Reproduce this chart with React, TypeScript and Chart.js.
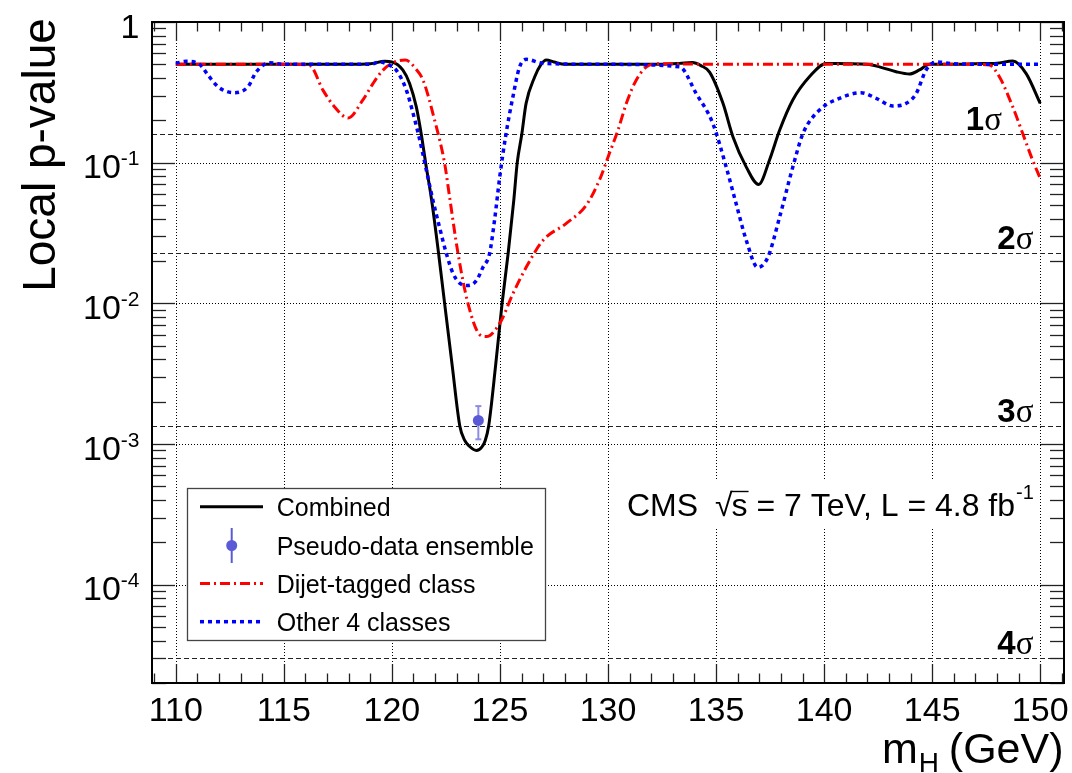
import React, { useEffect, useRef } from "react";
import { Chart, registerables } from "chart.js";
Chart.register(...registerables);

// ---------------- data ----------------
const massCombined = [110, 112, 114, 116, 118, 119, 119.67, 120.0, 120.51, 120.82, 121.13, 121.36, 121.56, 121.84, 122.16, 122.44, 122.79, 123.14, 123.37, 123.6, 123.91, 124.16, 124.32, 124.48, 124.8, 125.1, 125.38, 125.64, 125.8, 126.01, 126.21, 126.61, 126.88, 127.15, 127.5, 128.0, 130, 132, 133.3, 133.9, 134.3, 134.7, 135.32, 135.78, 136.4, 136.97, 137.47, 137.94, 138.55, 139.32, 140.1, 141, 142, 142.56, 143.33, 143.95, 144.41, 144.88, 146, 147, 148, 148.73, 149.35, 150];
const pCombined = [0.5, 0.5, 0.5, 0.5, 0.5, 0.505, 0.525, 0.52, 0.455, 0.366, 0.249, 0.159, 0.1, 0.054, 0.0227, 0.01, 0.00362, 0.00135, 0.00106, 0.00096, 0.0009, 0.00095, 0.00106, 0.00135, 0.00362, 0.01, 0.0227, 0.054, 0.1, 0.159, 0.264, 0.408, 0.494, 0.537, 0.52, 0.5, 0.5, 0.5, 0.508, 0.515, 0.49, 0.44, 0.264, 0.153, 0.093, 0.07, 0.104, 0.17, 0.279, 0.408, 0.508, 0.505, 0.5, 0.48, 0.443, 0.427, 0.456, 0.5, 0.5, 0.505, 0.51, 0.528, 0.43, 0.264];

const massDijet = [110, 112, 114, 115.5, 116.2, 116.81, 117.35, 117.97, 118.66, 119.13, 119.59, 120.05, 120.62, 121.13, 121.44, 121.98, 122.44, 122.67, 123.06, 123.52, 124.06, 124.37, 124.99, 125.6, 126.22, 126.99, 128.07, 129.0, 129.6, 130.07, 130.46, 130.85, 131.31, 131.92, 132.5, 135, 140, 145, 147.0, 147.65, 148.11, 148.73, 149.19, 149.65, 150];
const pDijet = [0.5, 0.5, 0.5, 0.5, 0.49, 0.328, 0.249, 0.208, 0.279, 0.366, 0.455, 0.513, 0.536, 0.46, 0.387, 0.2, 0.099, 0.057, 0.0226, 0.01, 0.006, 0.0058, 0.0072, 0.0117, 0.0181, 0.028, 0.037, 0.05, 0.075, 0.117, 0.17, 0.264, 0.387, 0.494, 0.505, 0.5, 0.5, 0.5, 0.5, 0.494, 0.408, 0.249, 0.161, 0.104, 0.0773];

const massOther = [110, 110.5, 111.1, 111.49, 111.96, 112.7, 113.34, 113.73, 114.35, 115, 117, 119, 119.44, 119.8, 120.2, 120.67, 120.98, 121.29, 121.52, 121.9, 122.2, 122.52, 122.83, 123.14, 123.52, 123.91, 124.21, 124.52, 124.75, 124.99, 125.26, 125.6, 125.91, 126.22, 127.0, 130, 133.31, 134.08, 134.85, 135.47, 135.93, 136.4, 136.93, 137.4, 137.94, 138.55, 139.02, 139.79, 140.71, 141.71, 142.41, 143.18, 143.8, 144.26, 144.72, 145.19, 146, 148, 150];
const pOther = [0.51, 0.525, 0.5, 0.42, 0.346, 0.314, 0.346, 0.443, 0.513, 0.5, 0.5, 0.5, 0.52, 0.5, 0.455, 0.328, 0.224, 0.145, 0.1, 0.054, 0.035, 0.0226, 0.0163, 0.0139, 0.0134, 0.0145, 0.018, 0.0226, 0.039, 0.079, 0.153, 0.294, 0.48, 0.543, 0.508, 0.5, 0.48, 0.31, 0.19, 0.093, 0.051, 0.028, 0.018, 0.0213, 0.041, 0.093, 0.161, 0.237, 0.287, 0.314, 0.287, 0.253, 0.264, 0.31, 0.456, 0.52, 0.505, 0.5, 0.5];

const pseudoMass = [124.0];
const pseudoP = [1.47e-3];
const pseudoLow = [1.08e-3];
const pseudoHigh = [1.86e-3];

const xTickValues = [110, 115, 120, 125, 130, 135, 140, 145, 150];
const yDecadeValues = [1, 0.1, 0.01, 0.001, 0.0001];
const yDecadeExponents = ["", "-1", "-2", "-3", "-4"];
const sigmaLevels = [0.1587, 0.02275, 0.00135, 3.0e-5];
const sigmaNames = ["1", "2", "3", "4"];
const legendLabels = ["Combined", "Pseudo-data ensemble", "Dijet-tagged class", "Other 4 classes"];

const X_MIN = 108.9;
const X_MAX = 151.1;
const Y_MIN = 2e-5;
const Y_MAX = 1;

const SANS = '"Liberation Sans", Arial, Helvetica, sans-serif';
const SERIF = '"Liberation Serif", "Times New Roman", serif';
const PSEUDO_COLOR = "#5a5ad6";
const RED_DASH = [10, 4, 2, 4];
const BLUE_DASH = [4, 4];

function toPoints(xs: number[], ys: number[]) {
  return xs.map((x, i) => ({ x, y: ys[i] }));
}

function line(ctx: CanvasRenderingContext2D, x1: number, y1: number, x2: number, y2: number) {
  ctx.beginPath();
  ctx.moveTo(x1, y1);
  ctx.lineTo(x2, y2);
  ctx.stroke();
}

const rootPlugin = {
  id: "rootStyle",
  beforeDatasetsDraw(chart: any) {
    const { ctx, chartArea: a } = chart;
    const xs = chart.scales.x;
    const ys = chart.scales.y;
    ctx.save();
    ctx.strokeStyle = "#000";
    ctx.lineWidth = 1;
    ctx.setLineDash([1, 2]);
    for (const t of xTickValues) {
      const px = Math.round(xs.getPixelForValue(t)) + 0.5;
      line(ctx, px, a.top, px, a.bottom);
    }
    for (const d of yDecadeValues) {
      if (d >= Y_MAX) continue;
      const py = Math.round(ys.getPixelForValue(d)) + 0.5;
      line(ctx, a.left, py, a.right, py);
    }
    ctx.setLineDash([5, 3]);
    ctx.strokeStyle = "#222";
    for (const s of sigmaLevels) {
      const py = Math.round(ys.getPixelForValue(s)) + 0.5;
      line(ctx, a.left, py, a.right, py);
    }
    ctx.setLineDash([]);
    ctx.strokeStyle = "#8c8ce6";
    ctx.lineWidth = 2;
    for (let i = 0; i < pseudoMass.length; i++) {
      const px = xs.getPixelForValue(pseudoMass[i]);
      const yt = ys.getPixelForValue(pseudoHigh[i]);
      const yb = ys.getPixelForValue(pseudoLow[i]);
      line(ctx, px, yt, px, yb);
      line(ctx, px - 3, yt, px + 3, yt);
      line(ctx, px - 3, yb, px + 3, yb);
    }
    ctx.restore();
  },
  afterDraw(chart: any) {
    const { ctx, chartArea: a } = chart;
    const xs = chart.scales.x;
    const ys = chart.scales.y;
    ctx.save();
    ctx.setLineDash([]);

    // ticks
    ctx.strokeStyle = "#222";
    ctx.lineWidth = 1.3;
    for (let v = Math.ceil(X_MIN); v <= Math.floor(X_MAX); v++) {
      const px = Math.round(xs.getPixelForValue(v)) + 0.5;
      const len = v % 5 === 0 ? 19 : 9.5;
      line(ctx, px, a.bottom, px, a.bottom - len);
      line(ctx, px, a.top, px, a.top + len);
    }
    for (let e = -5; e <= 0; e++) {
      for (let k = 1; k <= 9; k++) {
        const v = k * Math.pow(10, e);
        if (v < Y_MIN * 0.999 || v > Y_MAX * 1.001) continue;
        const py = Math.round(ys.getPixelForValue(v)) + 0.5;
        const len = k === 1 ? 23 : 14;
        line(ctx, a.left, py, a.left + len, py);
        line(ctx, a.right, py, a.right - len, py);
      }
    }

    // frame
    ctx.strokeStyle = "#000";
    ctx.lineWidth = 2;
    ctx.strokeRect(a.left, a.top, a.right - a.left, a.bottom - a.top);

    ctx.fillStyle = "#000";
    ctx.font = `34px ${SANS}`;
    ctx.textAlign = "center";
    ctx.textBaseline = "alphabetic";
    for (const t of xTickValues) {
      ctx.fillText(String(t), xs.getPixelForValue(t), a.bottom + 37.5);
    }
    const rightEdge = 139.5;
    for (let i = 0; i < yDecadeValues.length; i++) {
      const py = ys.getPixelForValue(yDecadeValues[i]);
      const ex = yDecadeExponents[i];
      ctx.textAlign = "left";
      if (ex === "") {
        ctx.font = `34px ${SANS}`;
        const w = ctx.measureText("1").width;
        ctx.fillText("1", rightEdge - w, py + 15.5);
      } else {
        ctx.font = `21px ${SANS}`;
        const ws = ctx.measureText(ex).width;
        ctx.fillText(ex, rightEdge - ws, py + 2.5);
        ctx.font = `34px ${SANS}`;
        const wb = ctx.measureText("10").width;
        ctx.fillText("10", rightEdge - ws - wb, py + 15.6);
      }
    }

    // y title
    ctx.save();
    ctx.font = `46px ${SANS}`;
    ctx.textAlign = "center";
    ctx.translate(55, 155);
    ctx.rotate(-Math.PI / 2);
    ctx.fillText("Local p-value", 0, 0);
    ctx.restore();

    // x title
    {
      const f = 43;
      const base = 763;
      ctx.textAlign = "left";
      ctx.font = `${f}px ${SANS}`;
      const wTail = ctx.measureText("(GeV)").width;
      const wm = ctx.measureText("m").width;
      const tailX = 1063.5 - wTail;
      const hX = tailX - 31;
      const mX = hX - wm;
      ctx.fillText("m", mX, base);
      ctx.fillText("(GeV)", tailX, base);
      ctx.font = `28px ${SANS}`;
      ctx.fillText("H", hX + 1, base + 9);
    }

    // sigma labels
    const sigmaRight = [1002, 1033.5, 1033.5, 1033.5];
    for (let i = 0; i < sigmaLevels.length; i++) {
      const py = ys.getPixelForValue(sigmaLevels[i]);
      ctx.font = `bold 33px ${SANS}`;
      const wn = ctx.measureText(sigmaNames[i]).width;
      ctx.font = `33px ${SERIF}`;
      const wsg = ctx.measureText("σ").width;
      const x0 = sigmaRight[i] - wn - wsg;
      ctx.textAlign = "left";
      ctx.font = `bold 33px ${SANS}`;
      ctx.fillText(sigmaNames[i], x0, py - 4);
      ctx.font = `33px ${SERIF}`;
      ctx.fillText("σ", x0 + wn, py - 4);
    }

    // CMS text with white background
    ctx.fillStyle = "#fff";
    ctx.fillRect(612, 481, 424, 47);
    ctx.fillStyle = "#000";
    {
      const base = 516;
      ctx.font = `32px ${SANS}`;
      ctx.textAlign = "left";
      ctx.fillText("CMS", 627, base);
      let x = 715;
      ctx.fillText("√", x, base);
      const wr = ctx.measureText("√").width;
      x += wr - 1;
      const wsv = ctx.measureText("s").width;
      ctx.fillText("s", x, base);
      ctx.lineWidth = 1.4;
      ctx.strokeStyle = "#000";
      line(ctx, x - 1, base - 24.5, x + wsv + 1, base - 24.5);
      x += wsv;
      const main = " = 7 TeV, L = 4.8 fb";
      ctx.fillText(main, x, base);
      x += ctx.measureText(main).width;
      ctx.font = `20px ${SANS}`;
      ctx.fillText("-1", x + 1, base - 17);
    }

    // legend
    {
      const bx = 187.5, by = 488.5, bw = 358, bh = 152;
      ctx.fillStyle = "#fff";
      ctx.fillRect(bx, by, bw, bh);
      ctx.strokeStyle = "#444";
      ctx.lineWidth = 1.3;
      ctx.strokeRect(bx, by, bw, bh);
      const rows = [506.7, 545.5, 583.5, 621.7];
      const sx1 = 200, sx2 = 263;
      ctx.strokeStyle = "#000";
      ctx.lineWidth = 3;
      line(ctx, sx1, rows[0], sx2, rows[0]);
      ctx.strokeStyle = PSEUDO_COLOR;
      ctx.lineWidth = 2;
      line(ctx, 231.7, rows[1] - 17.5, 231.7, rows[1] + 17.5);
      ctx.fillStyle = PSEUDO_COLOR;
      ctx.beginPath();
      ctx.arc(231.7, rows[1], 5.5, 0, Math.PI * 2);
      ctx.fill();
      ctx.strokeStyle = "#ff0000";
      ctx.lineWidth = 3;
      ctx.setLineDash(RED_DASH);
      line(ctx, sx1, rows[2], sx2, rows[2]);
      ctx.strokeStyle = "#0000ff";
      ctx.lineWidth = 3.5;
      ctx.setLineDash(BLUE_DASH);
      line(ctx, sx1, rows[3], sx2, rows[3]);
      ctx.setLineDash([]);
      ctx.fillStyle = "#000";
      ctx.font = `25px ${SANS}`;
      ctx.textAlign = "left";
      for (let i = 0; i < legendLabels.length; i++) {
        ctx.fillText(legendLabels[i], 276.7, rows[i] + 9);
      }
    }
    ctx.restore();
  },
};

export default function App() {
  const canvasRef = useRef<HTMLCanvasElement | null>(null);
  useEffect(() => {
    const canvas = canvasRef.current;
    if (!canvas) return;
    const chart = new Chart(canvas, {
      type: "line",
      data: {
        datasets: [
          {
            type: "scatter",
            label: legendLabels[1],
            data: toPoints(pseudoMass, pseudoP),
            pointRadius: 5.5,
            pointBackgroundColor: PSEUDO_COLOR,
            pointBorderColor: PSEUDO_COLOR,
            pointBorderWidth: 0,
            showLine: false,
            order: 1,
          } as any,
          {
            label: legendLabels[3],
            data: toPoints(massOther, pOther),
            borderColor: "#0000ff",
            borderWidth: 3.5,
            borderDash: BLUE_DASH,
            pointRadius: 0,
            fill: false,
            cubicInterpolationMode: "monotone",
            order: 2,
          },
          {
            label: legendLabels[2],
            data: toPoints(massDijet, pDijet),
            borderColor: "#ff0000",
            borderWidth: 3,
            borderDash: RED_DASH,
            pointRadius: 0,
            fill: false,
            cubicInterpolationMode: "monotone",
            order: 3,
          },
          {
            label: legendLabels[0],
            data: toPoints(massCombined, pCombined),
            borderColor: "#000000",
            borderWidth: 3,
            pointRadius: 0,
            fill: false,
            cubicInterpolationMode: "monotone",
            order: 4,
          },
        ],
      },
      options: {
        animation: false,
        responsive: false,
        devicePixelRatio: 1,
        layout: { padding: { left: 152, right: 8, top: 22, bottom: 90 } },
        plugins: { legend: { display: false }, tooltip: { enabled: false }, title: { display: false } },
        scales: {
          x: { type: "linear", min: X_MIN, max: X_MAX, display: false },
          y: { type: "logarithmic", min: Y_MIN, max: Y_MAX, display: false },
        },
      },
      plugins: [rootPlugin],
    });
    return () => chart.destroy();
  }, []);
  return (
    <div style={{ position: "absolute", left: 0, top: 0, width: 1072, height: 773, background: "#fff" }}>
      <canvas ref={canvasRef} width={1072} height={773} style={{ display: "block" }} />
    </div>
  );
}
